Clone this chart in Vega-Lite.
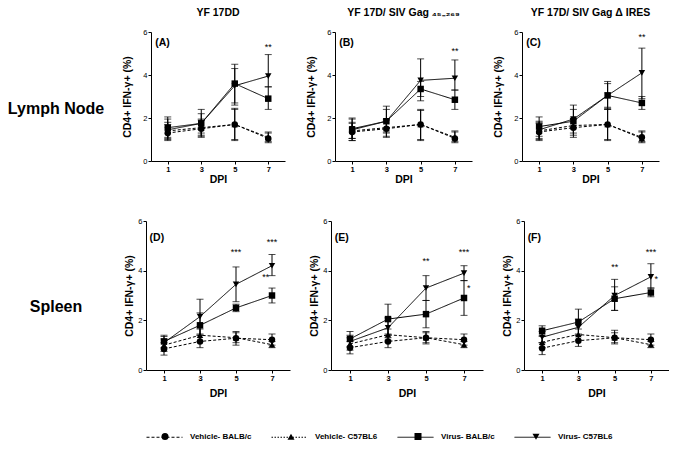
{
"$schema": "https://vega.github.io/schema/vega-lite/v6.json",
"padding": {"left": 0, "top": 7, "right": 0, "bottom": 0},
"spacing": 32,
"config": {
  "font": "Liberation Sans",
  "view": {"stroke": null},
  "title": {"fontSize": 10.5, "fontWeight": "bold", "offset": 10, "color": "black"},
  "axis": {"grid": false, "domainColor": "black", "tickColor": "black", "labelColor": "black", "titleColor": "black", "tickSize": 3, "labelPadding": 1, "labelFontSize": 7.5, "titleFontSize": 10.5, "titleFontWeight": "bold", "domainWidth": 1, "tickWidth": 1},
  "axisX": {"labelFontWeight": "bold", "titlePadding": 2, "labelAngle": 0},
  "axisY": {"labelFontWeight": "normal"}
},
"datasets": {
  "rows": [{"row": 1, "label": "Lymph Node"}, {"row": 2, "label": "Spleen"}],
  "leg": [{"series": "Vehicle- BALB/c", "entry": "_Vehicle- BALB/c"}, {"series": "Vehicle- C57BL6", "entry": "_Vehicle- C57BL6"}, {"series": "Virus- BALB/c", "entry": "_Virus- BALB/c"}, {"series": "Virus- C57BL6", "entry": "_Virus- C57BL6"}],
  "notes": [
    {"p": "A", "kind": "label", "dpi": 0.25, "y": 5.5, "t": "(A)"},
    {"p": "A", "kind": "star", "dpi": 7, "y": 5.3, "t": "**"},
    {"p": "B", "kind": "label", "dpi": 0.25, "y": 5.5, "t": "(B)"},
    {"p": "B", "kind": "star", "dpi": 7, "y": 5.1, "t": "**"},
    {"p": "C", "kind": "label", "dpi": 0.25, "y": 5.5, "t": "(C)"},
    {"p": "C", "kind": "star", "dpi": 7, "y": 5.75, "t": "**"},
    {"p": "D", "kind": "label", "dpi": 0.2, "y": 5.3, "t": "(D)"},
    {"p": "D", "kind": "star", "dpi": 5, "y": 4.75, "t": "***"},
    {"p": "D", "kind": "star", "dpi": 7, "y": 5.15, "t": "***"},
    {"p": "D", "kind": "star", "dpi": 6.65, "y": 3.75, "t": "**"},
    {"p": "E", "kind": "label", "dpi": 0.2, "y": 5.3, "t": "(E)"},
    {"p": "E", "kind": "star", "dpi": 5, "y": 4.4, "t": "**"},
    {"p": "E", "kind": "star", "dpi": 7, "y": 4.75, "t": "***"},
    {"p": "E", "kind": "star", "dpi": 7.25, "y": 3.3, "t": "*"},
    {"p": "F", "kind": "label", "dpi": 0.2, "y": 5.3, "t": "(F)"},
    {"p": "F", "kind": "star", "dpi": 5, "y": 4.15, "t": "**"},
    {"p": "F", "kind": "star", "dpi": 7, "y": 4.75, "t": "***"},
    {"p": "F", "kind": "star", "dpi": 7.3, "y": 3.65, "t": "*"}
  ],
  "obs": [
    {"p":"A","dpi":1,"series":"Virus- BALB/c","mean":1.55,"lo":1.05,"hi":2.05},
    {"p":"A","dpi":1,"series":"Virus- C57BL6","mean":1.45,"lo":1.0,"hi":1.95},
    {"p":"A","dpi":1,"series":"Vehicle- BALB/c","mean":1.3,"lo":0.95,"hi":1.7},
    {"p":"A","dpi":1,"series":"Vehicle- C57BL6","mean":1.4,"lo":1.1,"hi":1.8},
    {"p":"A","dpi":3,"series":"Virus- BALB/c","mean":1.75,"lo":1.2,"hi":2.4},
    {"p":"A","dpi":3,"series":"Virus- C57BL6","mean":1.75,"lo":1.3,"hi":2.2},
    {"p":"A","dpi":3,"series":"Vehicle- BALB/c","mean":1.5,"lo":1.1,"hi":1.9},
    {"p":"A","dpi":3,"series":"Vehicle- C57BL6","mean":1.55,"lo":1.15,"hi":1.95},
    {"p":"A","dpi":5,"series":"Virus- BALB/c","mean":3.6,"lo":2.7,"hi":4.5},
    {"p":"A","dpi":5,"series":"Virus- C57BL6","mean":3.5,"lo":2.6,"hi":4.3},
    {"p":"A","dpi":5,"series":"Vehicle- BALB/c","mean":1.7,"lo":0.95,"hi":2.45},
    {"p":"A","dpi":5,"series":"Vehicle- C57BL6","mean":1.7,"lo":1.0,"hi":2.4},
    {"p":"A","dpi":7,"series":"Virus- BALB/c","mean":2.9,"lo":2.4,"hi":3.45},
    {"p":"A","dpi":7,"series":"Virus- C57BL6","mean":3.95,"lo":3.45,"hi":4.95},
    {"p":"A","dpi":7,"series":"Vehicle- BALB/c","mean":1.05,"lo":0.85,"hi":1.3},
    {"p":"A","dpi":7,"series":"Vehicle- C57BL6","mean":1.1,"lo":0.9,"hi":1.35},

    {"p":"B","dpi":1,"series":"Virus- BALB/c","mean":1.45,"lo":0.95,"hi":2.0},
    {"p":"B","dpi":1,"series":"Virus- C57BL6","mean":1.5,"lo":1.05,"hi":1.95},
    {"p":"B","dpi":1,"series":"Vehicle- BALB/c","mean":1.35,"lo":0.95,"hi":1.75},
    {"p":"B","dpi":1,"series":"Vehicle- C57BL6","mean":1.4,"lo":1.05,"hi":1.8},
    {"p":"B","dpi":3,"series":"Virus- BALB/c","mean":1.85,"lo":1.3,"hi":2.55},
    {"p":"B","dpi":3,"series":"Virus- C57BL6","mean":1.85,"lo":1.35,"hi":2.4},
    {"p":"B","dpi":3,"series":"Vehicle- BALB/c","mean":1.5,"lo":1.1,"hi":1.9},
    {"p":"B","dpi":3,"series":"Vehicle- C57BL6","mean":1.55,"lo":1.15,"hi":1.95},
    {"p":"B","dpi":5,"series":"Virus- BALB/c","mean":3.35,"lo":3.0,"hi":3.7},
    {"p":"B","dpi":5,"series":"Virus- C57BL6","mean":3.75,"lo":2.8,"hi":4.75},
    {"p":"B","dpi":5,"series":"Vehicle- BALB/c","mean":1.7,"lo":0.95,"hi":2.4},
    {"p":"B","dpi":5,"series":"Vehicle- C57BL6","mean":1.7,"lo":1.0,"hi":2.35},
    {"p":"B","dpi":7,"series":"Virus- BALB/c","mean":2.85,"lo":2.4,"hi":3.3},
    {"p":"B","dpi":7,"series":"Virus- C57BL6","mean":3.85,"lo":3.3,"hi":4.7},
    {"p":"B","dpi":7,"series":"Vehicle- BALB/c","mean":1.05,"lo":0.85,"hi":1.35},
    {"p":"B","dpi":7,"series":"Vehicle- C57BL6","mean":1.1,"lo":0.9,"hi":1.4},

    {"p":"C","dpi":1,"series":"Virus- BALB/c","mean":1.6,"lo":1.15,"hi":2.05},
    {"p":"C","dpi":1,"series":"Virus- C57BL6","mean":1.45,"lo":1.05,"hi":1.85},
    {"p":"C","dpi":1,"series":"Vehicle- BALB/c","mean":1.35,"lo":0.95,"hi":1.75},
    {"p":"C","dpi":1,"series":"Vehicle- C57BL6","mean":1.4,"lo":1.0,"hi":1.8},
    {"p":"C","dpi":3,"series":"Virus- BALB/c","mean":1.85,"lo":1.3,"hi":2.6},
    {"p":"C","dpi":3,"series":"Virus- C57BL6","mean":1.95,"lo":1.5,"hi":2.4},
    {"p":"C","dpi":3,"series":"Vehicle- BALB/c","mean":1.55,"lo":1.1,"hi":1.95},
    {"p":"C","dpi":3,"series":"Vehicle- C57BL6","mean":1.65,"lo":1.2,"hi":2.0},
    {"p":"C","dpi":5,"series":"Virus- BALB/c","mean":3.05,"lo":2.4,"hi":3.7},
    {"p":"C","dpi":5,"series":"Virus- C57BL6","mean":3.05,"lo":2.5,"hi":3.6},
    {"p":"C","dpi":5,"series":"Vehicle- BALB/c","mean":1.7,"lo":0.95,"hi":2.45},
    {"p":"C","dpi":5,"series":"Vehicle- C57BL6","mean":1.7,"lo":1.0,"hi":2.4},
    {"p":"C","dpi":7,"series":"Virus- BALB/c","mean":2.7,"lo":2.4,"hi":3.0},
    {"p":"C","dpi":7,"series":"Virus- C57BL6","mean":4.1,"lo":2.9,"hi":5.25},
    {"p":"C","dpi":7,"series":"Vehicle- BALB/c","mean":1.1,"lo":0.85,"hi":1.4},
    {"p":"C","dpi":7,"series":"Vehicle- C57BL6","mean":1.05,"lo":0.9,"hi":1.35},

    {"p":"D","dpi":1,"series":"Virus- BALB/c","mean":1.15,"lo":0.9,"hi":1.4},
    {"p":"D","dpi":1,"series":"Virus- C57BL6","mean":1.1,"lo":0.85,"hi":1.35},
    {"p":"D","dpi":1,"series":"Vehicle- BALB/c","mean":0.85,"lo":0.6,"hi":1.1},
    {"p":"D","dpi":1,"series":"Vehicle- C57BL6","mean":1.0,"lo":0.75,"hi":1.25},
    {"p":"D","dpi":3,"series":"Virus- BALB/c","mean":1.8,"lo":1.4,"hi":2.3},
    {"p":"D","dpi":3,"series":"Virus- C57BL6","mean":2.15,"lo":1.45,"hi":2.85},
    {"p":"D","dpi":3,"series":"Vehicle- BALB/c","mean":1.15,"lo":0.9,"hi":1.4},
    {"p":"D","dpi":3,"series":"Vehicle- C57BL6","mean":1.4,"lo":1.15,"hi":1.65},
    {"p":"D","dpi":5,"series":"Virus- BALB/c","mean":2.5,"lo":2.35,"hi":2.65},
    {"p":"D","dpi":5,"series":"Virus- C57BL6","mean":3.45,"lo":2.75,"hi":4.15},
    {"p":"D","dpi":5,"series":"Vehicle- BALB/c","mean":1.28,"lo":1.0,"hi":1.55},
    {"p":"D","dpi":5,"series":"Vehicle- C57BL6","mean":1.3,"lo":1.1,"hi":1.5},
    {"p":"D","dpi":7,"series":"Virus- BALB/c","mean":3.0,"lo":2.7,"hi":3.3},
    {"p":"D","dpi":7,"series":"Virus- C57BL6","mean":4.2,"lo":3.8,"hi":4.65},
    {"p":"D","dpi":7,"series":"Vehicle- BALB/c","mean":1.22,"lo":1.0,"hi":1.45},
    {"p":"D","dpi":7,"series":"Vehicle- C57BL6","mean":1.02,"lo":0.9,"hi":1.15},

    {"p":"E","dpi":1,"series":"Virus- BALB/c","mean":1.25,"lo":0.95,"hi":1.55},
    {"p":"E","dpi":1,"series":"Virus- C57BL6","mean":1.15,"lo":0.9,"hi":1.4},
    {"p":"E","dpi":1,"series":"Vehicle- BALB/c","mean":0.9,"lo":0.65,"hi":1.15},
    {"p":"E","dpi":1,"series":"Vehicle- C57BL6","mean":1.05,"lo":0.8,"hi":1.3},
    {"p":"E","dpi":3,"series":"Virus- BALB/c","mean":2.05,"lo":1.45,"hi":2.65},
    {"p":"E","dpi":3,"series":"Virus- C57BL6","mean":1.7,"lo":1.3,"hi":2.1},
    {"p":"E","dpi":3,"series":"Vehicle- BALB/c","mean":1.15,"lo":0.9,"hi":1.4},
    {"p":"E","dpi":3,"series":"Vehicle- C57BL6","mean":1.42,"lo":1.2,"hi":1.65},
    {"p":"E","dpi":5,"series":"Virus- BALB/c","mean":2.25,"lo":1.7,"hi":2.8},
    {"p":"E","dpi":5,"series":"Virus- C57BL6","mean":3.3,"lo":2.8,"hi":3.8},
    {"p":"E","dpi":5,"series":"Vehicle- BALB/c","mean":1.3,"lo":1.05,"hi":1.55},
    {"p":"E","dpi":5,"series":"Vehicle- C57BL6","mean":1.3,"lo":1.1,"hi":1.5},
    {"p":"E","dpi":7,"series":"Virus- BALB/c","mean":2.9,"lo":2.2,"hi":3.6},
    {"p":"E","dpi":7,"series":"Virus- C57BL6","mean":3.9,"lo":3.6,"hi":4.2},
    {"p":"E","dpi":7,"series":"Vehicle- BALB/c","mean":1.22,"lo":1.0,"hi":1.45},
    {"p":"E","dpi":7,"series":"Vehicle- C57BL6","mean":1.02,"lo":0.9,"hi":1.15},

    {"p":"F","dpi":1,"series":"Virus- BALB/c","mean":1.58,"lo":1.4,"hi":1.78},
    {"p":"F","dpi":1,"series":"Virus- C57BL6","mean":1.32,"lo":1.1,"hi":1.55},
    {"p":"F","dpi":1,"series":"Vehicle- BALB/c","mean":0.88,"lo":0.62,"hi":1.1},
    {"p":"F","dpi":1,"series":"Vehicle- C57BL6","mean":1.12,"lo":0.9,"hi":1.35},
    {"p":"F","dpi":3,"series":"Virus- BALB/c","mean":1.93,"lo":1.45,"hi":2.45},
    {"p":"F","dpi":3,"series":"Virus- C57BL6","mean":1.72,"lo":1.4,"hi":2.05},
    {"p":"F","dpi":3,"series":"Vehicle- BALB/c","mean":1.18,"lo":0.95,"hi":1.4},
    {"p":"F","dpi":3,"series":"Vehicle- C57BL6","mean":1.43,"lo":1.2,"hi":1.65},
    {"p":"F","dpi":5,"series":"Virus- BALB/c","mean":2.87,"lo":2.4,"hi":3.35},
    {"p":"F","dpi":5,"series":"Virus- C57BL6","mean":3.0,"lo":2.4,"hi":3.65},
    {"p":"F","dpi":5,"series":"Vehicle- BALB/c","mean":1.3,"lo":1.05,"hi":1.6},
    {"p":"F","dpi":5,"series":"Vehicle- C57BL6","mean":1.3,"lo":1.1,"hi":1.5},
    {"p":"F","dpi":7,"series":"Virus- BALB/c","mean":3.12,"lo":2.95,"hi":3.3},
    {"p":"F","dpi":7,"series":"Virus- C57BL6","mean":3.75,"lo":3.3,"hi":4.28},
    {"p":"F","dpi":7,"series":"Vehicle- BALB/c","mean":1.22,"lo":1.0,"hi":1.45},
    {"p":"F","dpi":7,"series":"Vehicle- C57BL6","mean":1.02,"lo":0.9,"hi":1.15}
  ]
},
"resolve": {"scale": {"shape": "independent", "strokeDash": "independent"}, "legend": {"shape": "independent", "strokeDash": "independent"}},
"vconcat": [
  {
    "bounds": "flush",
    "spacing": 50,
    "hconcat": [
      {"width": 101, "height": 129, "data": {"name": "rows"}, "transform": [{"filter": "datum.row === 1"}],
       "mark": {"type": "text", "fontSize": 16, "fontWeight": "bold", "dx": 5.5, "dy": 12, "color": "black"},
       "encoding": {"text": {"field": "label"}}},
      {"width": 134, "height": 129, "title": "YF 17DD",
       "encoding": {
         "x": {"field": "dpi", "type": "quantitative", "scale": {"domain": [0, 8]}, "axis": {"values": [1, 3, 5, 7], "title": "DPI"}},
         "y": {"field": "mean", "type": "quantitative", "scale": {"domain": [0, 6]}, "axis": {"values": [0, 2, 4, 6], "title": "CD4+ IFN-γ+ (%)", "titlePadding": 10}}
       },
       "layer": [
         {"data": {"name": "obs"}, "transform": [{"filter": "datum.p === 'A'"}], "mark": {"type": "rule", "color": "black", "strokeWidth": 1}, "encoding": {"y": {"field": "lo", "type": "quantitative", "scale": {"domain": [0, 6]}}, "y2": {"field": "hi"}}},
         {"data": {"name": "obs"}, "transform": [{"filter": "datum.p === 'A'"}], "mark": {"type": "tick", "orient": "horizontal", "color": "black", "size": 7, "thickness": 1}, "encoding": {"y": {"field": "lo", "type": "quantitative", "scale": {"domain": [0, 6]}}}},
         {"data": {"name": "obs"}, "transform": [{"filter": "datum.p === 'A'"}], "mark": {"type": "tick", "orient": "horizontal", "color": "black", "size": 7, "thickness": 1}, "encoding": {"y": {"field": "hi", "type": "quantitative", "scale": {"domain": [0, 6]}}}},
         {"data": {"name": "obs"}, "transform": [{"filter": "datum.p === 'A'"}], "mark": {"type": "line", "color": "black", "strokeWidth": 1}, "encoding": {"detail": {"field": "series"}, "strokeDash": {"field": "series", "type": "nominal", "scale": {"domain": ["Vehicle- BALB/c", "Vehicle- C57BL6", "Virus- BALB/c", "Virus- C57BL6"], "range": [[3, 2], [3, 2], [1, 0], [1, 0]]}, "legend": null}}},
         {"data": {"name": "obs"}, "transform": [{"filter": "datum.p === 'A'"}], "mark": {"type": "point", "filled": true, "color": "black", "opacity": 1, "size": 42}, "encoding": {"shape": {"field": "series", "type": "nominal", "scale": {"domain": ["Vehicle- BALB/c", "Vehicle- C57BL6", "Virus- BALB/c", "Virus- C57BL6"], "range": ["circle", "triangle-up", "square", "triangle-down"]}, "legend": null}}},
         {"data": {"name": "notes"}, "transform": [{"filter": "datum.p === 'A' && datum.kind === 'label'"}], "mark": {"type": "text", "align": "left", "baseline": "middle", "fontSize": 10.5, "fontWeight": "bold", "color": "black"}, "encoding": {"y": {"field": "y", "type": "quantitative", "scale": {"domain": [0, 6]}}, "text": {"field": "t"}}},
         {"data": {"name": "notes"}, "transform": [{"filter": "datum.p === 'A' && datum.kind === 'star'"}], "mark": {"type": "text", "align": "center", "baseline": "middle", "fontSize": 9, "color": "black"}, "encoding": {"y": {"field": "y", "type": "quantitative", "scale": {"domain": [0, 6]}}, "text": {"field": "t"}}}
       ]},
      {"width": 137, "height": 129, "title": "YF 17D/ SIV Gag ₄₅₋₂₆₉",
       "encoding": {
         "x": {"field": "dpi", "type": "quantitative", "scale": {"domain": [0, 8]}, "axis": {"values": [1, 3, 5, 7], "title": "DPI"}},
         "y": {"field": "mean", "type": "quantitative", "scale": {"domain": [0, 6]}, "axis": {"values": [0, 2, 4, 6], "title": "CD4+ IFN-γ+ (%)", "titlePadding": 10}}
       },
       "layer": [
         {"data": {"name": "obs"}, "transform": [{"filter": "datum.p === 'B'"}], "mark": {"type": "rule", "color": "black", "strokeWidth": 1}, "encoding": {"y": {"field": "lo", "type": "quantitative", "scale": {"domain": [0, 6]}}, "y2": {"field": "hi"}}},
         {"data": {"name": "obs"}, "transform": [{"filter": "datum.p === 'B'"}], "mark": {"type": "tick", "orient": "horizontal", "color": "black", "size": 7, "thickness": 1}, "encoding": {"y": {"field": "lo", "type": "quantitative", "scale": {"domain": [0, 6]}}}},
         {"data": {"name": "obs"}, "transform": [{"filter": "datum.p === 'B'"}], "mark": {"type": "tick", "orient": "horizontal", "color": "black", "size": 7, "thickness": 1}, "encoding": {"y": {"field": "hi", "type": "quantitative", "scale": {"domain": [0, 6]}}}},
         {"data": {"name": "obs"}, "transform": [{"filter": "datum.p === 'B'"}], "mark": {"type": "line", "color": "black", "strokeWidth": 1}, "encoding": {"detail": {"field": "series"}, "strokeDash": {"field": "series", "type": "nominal", "scale": {"domain": ["Vehicle- BALB/c", "Vehicle- C57BL6", "Virus- BALB/c", "Virus- C57BL6"], "range": [[3, 2], [3, 2], [1, 0], [1, 0]]}, "legend": null}}},
         {"data": {"name": "obs"}, "transform": [{"filter": "datum.p === 'B'"}], "mark": {"type": "point", "filled": true, "color": "black", "opacity": 1, "size": 42}, "encoding": {"shape": {"field": "series", "type": "nominal", "scale": {"domain": ["Vehicle- BALB/c", "Vehicle- C57BL6", "Virus- BALB/c", "Virus- C57BL6"], "range": ["circle", "triangle-up", "square", "triangle-down"]}, "legend": null}}},
         {"data": {"name": "notes"}, "transform": [{"filter": "datum.p === 'B' && datum.kind === 'label'"}], "mark": {"type": "text", "align": "left", "baseline": "middle", "fontSize": 10.5, "fontWeight": "bold", "color": "black"}, "encoding": {"y": {"field": "y", "type": "quantitative", "scale": {"domain": [0, 6]}}, "text": {"field": "t"}}},
         {"data": {"name": "notes"}, "transform": [{"filter": "datum.p === 'B' && datum.kind === 'star'"}], "mark": {"type": "text", "align": "center", "baseline": "middle", "fontSize": 9, "color": "black"}, "encoding": {"y": {"field": "y", "type": "quantitative", "scale": {"domain": [0, 6]}}, "text": {"field": "t"}}}
       ]},
      {"width": 137, "height": 129, "title": "YF 17D/ SIV Gag Δ IRES",
       "encoding": {
         "x": {"field": "dpi", "type": "quantitative", "scale": {"domain": [0, 8]}, "axis": {"values": [1, 3, 5, 7], "title": "DPI"}},
         "y": {"field": "mean", "type": "quantitative", "scale": {"domain": [0, 6]}, "axis": {"values": [0, 2, 4, 6], "title": "CD4+ IFN-γ+ (%)", "titlePadding": 10}}
       },
       "layer": [
         {"data": {"name": "obs"}, "transform": [{"filter": "datum.p === 'C'"}], "mark": {"type": "rule", "color": "black", "strokeWidth": 1}, "encoding": {"y": {"field": "lo", "type": "quantitative", "scale": {"domain": [0, 6]}}, "y2": {"field": "hi"}}},
         {"data": {"name": "obs"}, "transform": [{"filter": "datum.p === 'C'"}], "mark": {"type": "tick", "orient": "horizontal", "color": "black", "size": 7, "thickness": 1}, "encoding": {"y": {"field": "lo", "type": "quantitative", "scale": {"domain": [0, 6]}}}},
         {"data": {"name": "obs"}, "transform": [{"filter": "datum.p === 'C'"}], "mark": {"type": "tick", "orient": "horizontal", "color": "black", "size": 7, "thickness": 1}, "encoding": {"y": {"field": "hi", "type": "quantitative", "scale": {"domain": [0, 6]}}}},
         {"data": {"name": "obs"}, "transform": [{"filter": "datum.p === 'C'"}], "mark": {"type": "line", "color": "black", "strokeWidth": 1}, "encoding": {"detail": {"field": "series"}, "strokeDash": {"field": "series", "type": "nominal", "scale": {"domain": ["Vehicle- BALB/c", "Vehicle- C57BL6", "Virus- BALB/c", "Virus- C57BL6"], "range": [[3, 2], [3, 2], [1, 0], [1, 0]]}, "legend": null}}},
         {"data": {"name": "obs"}, "transform": [{"filter": "datum.p === 'C'"}], "mark": {"type": "point", "filled": true, "color": "black", "opacity": 1, "size": 42}, "encoding": {"shape": {"field": "series", "type": "nominal", "scale": {"domain": ["Vehicle- BALB/c", "Vehicle- C57BL6", "Virus- BALB/c", "Virus- C57BL6"], "range": ["circle", "triangle-up", "square", "triangle-down"]}, "legend": null}}},
         {"data": {"name": "notes"}, "transform": [{"filter": "datum.p === 'C' && datum.kind === 'label'"}], "mark": {"type": "text", "align": "left", "baseline": "middle", "fontSize": 10.5, "fontWeight": "bold", "color": "black"}, "encoding": {"y": {"field": "y", "type": "quantitative", "scale": {"domain": [0, 6]}}, "text": {"field": "t"}}},
         {"data": {"name": "notes"}, "transform": [{"filter": "datum.p === 'C' && datum.kind === 'star'"}], "mark": {"type": "text", "align": "center", "baseline": "middle", "fontSize": 9, "color": "black"}, "encoding": {"y": {"field": "y", "type": "quantitative", "scale": {"domain": [0, 6]}}, "text": {"field": "t"}}}
       ]}
    ]
  },
  {
    "spacing": 19.5,
    "resolve": {"scale": {"shape": "independent", "strokeDash": "independent"}, "legend": {"shape": "independent", "strokeDash": "independent"}},
    "vconcat": [
      {
        "bounds": "flush",
        "spacing": 41,
        "hconcat": [
          {"width": 105, "height": 149, "data": {"name": "rows"}, "transform": [{"filter": "datum.row === 2"}],
           "mark": {"type": "text", "fontSize": 16, "fontWeight": "bold", "dx": 3.5, "dy": 11, "color": "black"},
           "encoding": {"text": {"field": "label"}}},
          {"width": 144, "height": 149,
           "encoding": {
             "x": {"field": "dpi", "type": "quantitative", "scale": {"domain": [0, 8]}, "axis": {"values": [1, 3, 5, 7], "title": "DPI", "titlePadding": 7}},
             "y": {"field": "mean", "type": "quantitative", "scale": {"domain": [0, 6]}, "axis": {"values": [0, 2, 4, 6], "title": "CD4+ IFN-γ+ (%)", "titlePadding": 3}}
           },
           "layer": [
             {"data": {"name": "obs"}, "transform": [{"filter": "datum.p === 'D'"}], "mark": {"type": "rule", "color": "black", "strokeWidth": 1}, "encoding": {"y": {"field": "lo", "type": "quantitative", "scale": {"domain": [0, 6]}}, "y2": {"field": "hi"}}},
             {"data": {"name": "obs"}, "transform": [{"filter": "datum.p === 'D'"}], "mark": {"type": "tick", "orient": "horizontal", "color": "black", "size": 7, "thickness": 1}, "encoding": {"y": {"field": "lo", "type": "quantitative", "scale": {"domain": [0, 6]}}}},
             {"data": {"name": "obs"}, "transform": [{"filter": "datum.p === 'D'"}], "mark": {"type": "tick", "orient": "horizontal", "color": "black", "size": 7, "thickness": 1}, "encoding": {"y": {"field": "hi", "type": "quantitative", "scale": {"domain": [0, 6]}}}},
             {"data": {"name": "obs"}, "transform": [{"filter": "datum.p === 'D'"}], "mark": {"type": "line", "color": "black", "strokeWidth": 1}, "encoding": {"detail": {"field": "series"}, "strokeDash": {"field": "series", "type": "nominal", "scale": {"domain": ["Vehicle- BALB/c", "Vehicle- C57BL6", "Virus- BALB/c", "Virus- C57BL6"], "range": [[3, 2], [3, 2], [1, 0], [1, 0]]}, "legend": null}}},
             {"data": {"name": "obs"}, "transform": [{"filter": "datum.p === 'D'"}], "mark": {"type": "point", "filled": true, "color": "black", "opacity": 1, "size": 42}, "encoding": {"shape": {"field": "series", "type": "nominal", "scale": {"domain": ["Vehicle- BALB/c", "Vehicle- C57BL6", "Virus- BALB/c", "Virus- C57BL6"], "range": ["circle", "triangle-up", "square", "triangle-down"]}, "legend": null}}},
             {"data": {"name": "notes"}, "transform": [{"filter": "datum.p === 'D' && datum.kind === 'label'"}], "mark": {"type": "text", "align": "left", "baseline": "middle", "fontSize": 10.5, "fontWeight": "bold", "color": "black"}, "encoding": {"y": {"field": "y", "type": "quantitative", "scale": {"domain": [0, 6]}}, "text": {"field": "t"}}},
             {"data": {"name": "notes"}, "transform": [{"filter": "datum.p === 'D' && datum.kind === 'star'"}], "mark": {"type": "text", "align": "center", "baseline": "middle", "fontSize": 9, "color": "black"}, "encoding": {"y": {"field": "y", "type": "quantitative", "scale": {"domain": [0, 6]}}, "text": {"field": "t"}}}
           ]},
          {"width": 152, "height": 149,
           "encoding": {
             "x": {"field": "dpi", "type": "quantitative", "scale": {"domain": [0, 8]}, "axis": {"values": [1, 3, 5, 7], "title": "DPI", "titlePadding": 7}},
             "y": {"field": "mean", "type": "quantitative", "scale": {"domain": [0, 6]}, "axis": {"values": [0, 2, 4, 6], "title": "CD4+ IFN-γ+ (%)", "titlePadding": 3}}
           },
           "layer": [
             {"data": {"name": "obs"}, "transform": [{"filter": "datum.p === 'E'"}], "mark": {"type": "rule", "color": "black", "strokeWidth": 1}, "encoding": {"y": {"field": "lo", "type": "quantitative", "scale": {"domain": [0, 6]}}, "y2": {"field": "hi"}}},
             {"data": {"name": "obs"}, "transform": [{"filter": "datum.p === 'E'"}], "mark": {"type": "tick", "orient": "horizontal", "color": "black", "size": 7, "thickness": 1}, "encoding": {"y": {"field": "lo", "type": "quantitative", "scale": {"domain": [0, 6]}}}},
             {"data": {"name": "obs"}, "transform": [{"filter": "datum.p === 'E'"}], "mark": {"type": "tick", "orient": "horizontal", "color": "black", "size": 7, "thickness": 1}, "encoding": {"y": {"field": "hi", "type": "quantitative", "scale": {"domain": [0, 6]}}}},
             {"data": {"name": "obs"}, "transform": [{"filter": "datum.p === 'E'"}], "mark": {"type": "line", "color": "black", "strokeWidth": 1}, "encoding": {"detail": {"field": "series"}, "strokeDash": {"field": "series", "type": "nominal", "scale": {"domain": ["Vehicle- BALB/c", "Vehicle- C57BL6", "Virus- BALB/c", "Virus- C57BL6"], "range": [[3, 2], [3, 2], [1, 0], [1, 0]]}, "legend": null}}},
             {"data": {"name": "obs"}, "transform": [{"filter": "datum.p === 'E'"}], "mark": {"type": "point", "filled": true, "color": "black", "opacity": 1, "size": 42}, "encoding": {"shape": {"field": "series", "type": "nominal", "scale": {"domain": ["Vehicle- BALB/c", "Vehicle- C57BL6", "Virus- BALB/c", "Virus- C57BL6"], "range": ["circle", "triangle-up", "square", "triangle-down"]}, "legend": null}}},
             {"data": {"name": "notes"}, "transform": [{"filter": "datum.p === 'E' && datum.kind === 'label'"}], "mark": {"type": "text", "align": "left", "baseline": "middle", "fontSize": 10.5, "fontWeight": "bold", "color": "black"}, "encoding": {"y": {"field": "y", "type": "quantitative", "scale": {"domain": [0, 6]}}, "text": {"field": "t"}}},
             {"data": {"name": "notes"}, "transform": [{"filter": "datum.p === 'E' && datum.kind === 'star'"}], "mark": {"type": "text", "align": "center", "baseline": "middle", "fontSize": 9, "color": "black"}, "encoding": {"y": {"field": "y", "type": "quantitative", "scale": {"domain": [0, 6]}}, "text": {"field": "t"}}}
           ]},
          {"width": 145, "height": 149,
           "encoding": {
             "x": {"field": "dpi", "type": "quantitative", "scale": {"domain": [0, 8]}, "axis": {"values": [1, 3, 5, 7], "title": "DPI", "titlePadding": 7}},
             "y": {"field": "mean", "type": "quantitative", "scale": {"domain": [0, 6]}, "axis": {"values": [0, 2, 4, 6], "title": "CD4+ IFN-γ+ (%)", "titlePadding": 3}}
           },
           "layer": [
             {"data": {"name": "obs"}, "transform": [{"filter": "datum.p === 'F'"}], "mark": {"type": "rule", "color": "black", "strokeWidth": 1}, "encoding": {"y": {"field": "lo", "type": "quantitative", "scale": {"domain": [0, 6]}}, "y2": {"field": "hi"}}},
             {"data": {"name": "obs"}, "transform": [{"filter": "datum.p === 'F'"}], "mark": {"type": "tick", "orient": "horizontal", "color": "black", "size": 7, "thickness": 1}, "encoding": {"y": {"field": "lo", "type": "quantitative", "scale": {"domain": [0, 6]}}}},
             {"data": {"name": "obs"}, "transform": [{"filter": "datum.p === 'F'"}], "mark": {"type": "tick", "orient": "horizontal", "color": "black", "size": 7, "thickness": 1}, "encoding": {"y": {"field": "hi", "type": "quantitative", "scale": {"domain": [0, 6]}}}},
             {"data": {"name": "obs"}, "transform": [{"filter": "datum.p === 'F'"}], "mark": {"type": "line", "color": "black", "strokeWidth": 1}, "encoding": {"detail": {"field": "series"}, "strokeDash": {"field": "series", "type": "nominal", "scale": {"domain": ["Vehicle- BALB/c", "Vehicle- C57BL6", "Virus- BALB/c", "Virus- C57BL6"], "range": [[3, 2], [3, 2], [1, 0], [1, 0]]}, "legend": null}}},
             {"data": {"name": "obs"}, "transform": [{"filter": "datum.p === 'F'"}], "mark": {"type": "point", "filled": true, "color": "black", "opacity": 1, "size": 42}, "encoding": {"shape": {"field": "series", "type": "nominal", "scale": {"domain": ["Vehicle- BALB/c", "Vehicle- C57BL6", "Virus- BALB/c", "Virus- C57BL6"], "range": ["circle", "triangle-up", "square", "triangle-down"]}, "legend": null}}},
             {"data": {"name": "notes"}, "transform": [{"filter": "datum.p === 'F' && datum.kind === 'label'"}], "mark": {"type": "text", "align": "left", "baseline": "middle", "fontSize": 10.5, "fontWeight": "bold", "color": "black"}, "encoding": {"y": {"field": "y", "type": "quantitative", "scale": {"domain": [0, 6]}}, "text": {"field": "t"}}},
             {"data": {"name": "notes"}, "transform": [{"filter": "datum.p === 'F' && datum.kind === 'star'"}], "mark": {"type": "text", "align": "center", "baseline": "middle", "fontSize": 9, "color": "black"}, "encoding": {"y": {"field": "y", "type": "quantitative", "scale": {"domain": [0, 6]}}, "text": {"field": "t"}}}
           ]}
        ]
      },
      {
        "width": 1, "height": 1,
        "data": {"name": "leg"},
        "layer": [
          {"mark": {"type": "point", "filled": false, "color": "black", "opacity": 0, "size": 1},
           "encoding": {"strokeDash": {"field": "series", "type": "nominal",
             "scale": {"domain": ["Vehicle- BALB/c", "Vehicle- C57BL6", "Virus- BALB/c", "Virus- C57BL6"], "range": [[3, 2], [1.5, 1.5], [1, 0], [1, 0]]},
             "legend": {"orient": "none", "legendX": 146, "legendY": 0, "direction": "horizontal", "columns": 4, "gridAlign": "each", "title": null, "padding": 0,
                        "symbolType": "stroke", "symbolSize": 1296, "symbolStrokeWidth": 1, "symbolStrokeColor": "black", "symbolOpacity": 1,
                        "labelFontSize": 8, "labelFontWeight": "bold", "labelColor": "black", "labelOffset": 7, "columnPadding": 17,
                        "encode": {"symbols": {"stroke": {"value": "black"}, "strokeWidth": {"value": 1}, "size": {"value": 1296}, "shape": {"value": "stroke"}}}}}}},
          {"mark": {"type": "point", "filled": true, "color": "black", "opacity": 0, "size": 1},
           "encoding": {"shape": {"field": "entry", "type": "nominal",
             "scale": {"domain": ["_Vehicle- BALB/c", "_Vehicle- C57BL6", "_Virus- BALB/c", "_Virus- C57BL6"], "range": ["circle", "triangle-up", "square", "triangle-down"]},
             "legend": {"orient": "none", "legendX": 160.5, "legendY": 13.5, "direction": "horizontal", "columns": 4, "gridAlign": "each", "title": null, "padding": 0,
                        "symbolSize": 49, "symbolFillColor": "black", "symbolOpacity": 1,
                        "labelExpr": "slice(datum.label, 1)",
                        "labelFontSize": 8, "labelFontWeight": "bold", "labelColor": "black", "labelOpacity": 0, "labelOffset": 36, "columnPadding": 17,
                        "encode": {"symbols": {"fill": {"value": "black"}, "size": {"value": 49}}}}}}}
        ]
      }
    ]
  }
]
}
